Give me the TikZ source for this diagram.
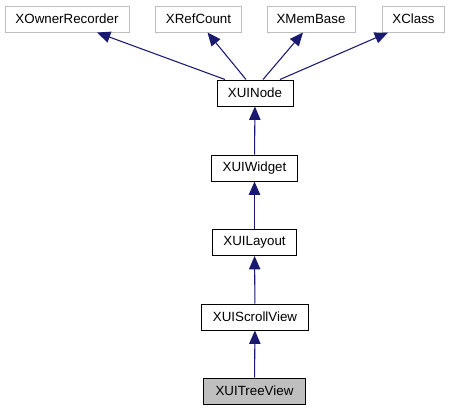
\documentclass[tikz,border=0pt]{standalone}
\usepackage{fontspec}
\setmainfont{Liberation Sans}
\usetikzlibrary{arrows.meta,calc}
\definecolor{edgeblue}{HTML}{191970}
\definecolor{boxgray}{HTML}{BFBFBF}

\begin{document}
\begin{tikzpicture}
		[x=0.75pt,y=-0.75pt,
		cls/.style={draw,line width=0.75pt,inner sep=0pt,minimum height=19.5pt,font=\fontsize{10}{12}\selectfont},
		extcls/.style={cls,draw=boxgray},
		current/.style={cls,fill=boxgray},
		inherit/.style={-{Triangle[length=10pt,width=8.5pt]},line width=0.8pt,edgeblue}]
		\useasboundingbox (0,0) rectangle (451,411);

		% draw the base classes on top
		\node[extcls,minimum width=93pt] (xownerrecorder) at (67,19) {XOwnerRecorder};
		\node[extcls,minimum width=65pt] (xrefcount) at (198.5,19) {XRefCount};
		\node[extcls,minimum width=66pt] (xmembase) at (311,19) {XMemBase};
		\node[extcls,minimum width=47pt] (xclass) at (413.5,19) {XClass};

		% draw the chain down to the tree view
		\node[cls,minimum width=57pt] (xuinode) at (255,93) {XUINode};
		\node[cls,minimum width=64pt] (xuiwidget) at (254.5,168) {XUIWidget};
		\node[cls,minimum width=63pt] (xuilayout) at (254.5,242.5) {XUILayout};
		\node[cls,minimum width=80pt] (xuiscrollview) at (255,317) {XUIScrollView};
		\node[current,minimum width=76pt] (xuitreeview) at (254.5,391) {XUITreeView};

		%draw the inheritance arrows
		\draw [inherit] ($(xuinode.north)+(-30,0)$) -- ($(xownerrecorder.south)+(30,0)$);
		\draw [inherit] ($(xuinode.north)+(-9,0)$) -- ($(xrefcount.south)+(9,0)$);
		\draw [inherit] ($(xuinode.north)+(8,0)$) -- ($(xmembase.south)+(-8,0)$);
		\draw [inherit] ($(xuinode.north)+(25,0)$) -- ($(xclass.south)+(-25.5,0)$);
		\draw [inherit] (xuiwidget) -- (xuinode);
		\draw [inherit] (xuilayout) -- (xuiwidget);
		\draw [inherit] (xuiscrollview) -- (xuilayout);
		\draw [inherit] (xuitreeview) -- (xuiscrollview);
	\end{tikzpicture}
\end{document}
